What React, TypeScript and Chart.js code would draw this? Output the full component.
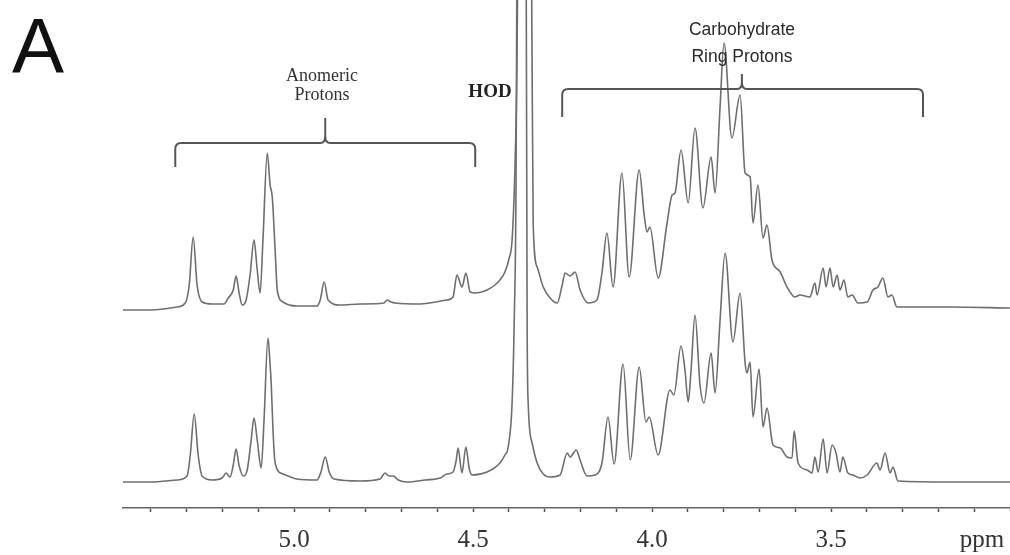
import { useEffect, useRef } from "react";
import { Chart, registerables } from "chart.js";

Chart.register(...registerables);

// Chemical shift (ppm) and intensity of the upper spectrum
const topPpm = [
  5.478, 5.402, 5.327, 5.304, 5.293, 5.282, 5.271, 5.257, 5.229, 5.196, 5.184, 5.17, 5.162, 5.154, 5.145,
  5.134, 5.123, 5.112, 5.103, 5.095, 5.087, 5.075, 5.067, 5.061, 5.053, 5.047, 5.031, 4.992, 4.936, 4.927,
  4.916, 4.905, 4.872, 4.816, 4.749, 4.74, 4.729, 4.718, 4.648, 4.573, 4.556, 4.545, 4.531, 4.52, 4.508,
  4.494, 4.461, 4.439, 4.425, 4.411, 4.399, 4.391, 4.383, 4.377, 4.356, 4.336, 4.332, 4.321, 4.304, 4.285,
  4.265, 4.251, 4.243, 4.229, 4.215, 4.201, 4.179, 4.154, 4.14, 4.126, 4.109, 4.084, 4.064, 4.036, 4.022,
  4.014, 4.006, 3.983, 3.958, 3.944, 3.936, 3.919, 3.899, 3.88, 3.858, 3.835, 3.824, 3.81, 3.799, 3.777,
  3.754, 3.74, 3.726, 3.718, 3.704, 3.69, 3.679, 3.665, 3.642, 3.623, 3.601, 3.587, 3.559, 3.545, 3.539,
  3.522, 3.514, 3.503, 3.494, 3.483, 3.475, 3.464, 3.453, 3.441, 3.425, 3.399, 3.383, 3.369, 3.355, 3.341,
  3.33, 3.316, 3.168, 3.0,
];
const topIntensity = [
  0, 0, 3, 7, 25, 73, 25, 8, 6, 6, 12, 20, 34, 18, 5,
  10, 35, 70, 40, 17, 70, 157, 125, 113, 60, 20, 8, 4, 4, 10,
  28, 10, 5, 6, 7, 10, 8, 7, 6, 10, 13, 35, 23, 37, 18,
  17, 20, 25, 30, 38, 52, 70, 143, 260, 1500, 300, 85, 43, 23, 12,
  7, 25, 37, 34, 38, 20, 7, 10, 37, 77, 23, 137, 33, 140, 95,
  78, 83, 32, 87, 115, 117, 160, 107, 182, 102, 153, 117, 203, 267, 172,
  215, 137, 133, 87, 125, 72, 85, 50, 38, 23, 13, 15, 13, 27, 15,
  42, 23, 42, 23, 35, 20, 30, 13, 15, 7, 8, 20, 23, 32, 13,
  15, 3, 3, 2,
];

// Chemical shift (ppm) and intensity of the lower spectrum
const bottomPpm = [
  5.478, 5.402, 5.327, 5.299, 5.29, 5.279, 5.268, 5.257, 5.229, 5.201, 5.19, 5.179, 5.17, 5.162, 5.154,
  5.142, 5.131, 5.12, 5.112, 5.103, 5.092, 5.084, 5.073, 5.067, 5.064, 5.059, 5.053, 5.031, 4.992, 4.936,
  4.925, 4.913, 4.902, 4.888, 4.816, 4.76, 4.746, 4.735, 4.723, 4.709, 4.684, 4.634, 4.592, 4.573, 4.556,
  4.547, 4.542, 4.531, 4.52, 4.511, 4.503, 4.461, 4.425, 4.411, 4.402, 4.391, 4.385, 4.38, 4.365, 4.35,
  4.349, 4.346, 4.335, 4.321, 4.304, 4.285, 4.257, 4.237, 4.229, 4.212, 4.201, 4.182, 4.159, 4.14, 4.123,
  4.106, 4.081, 4.061, 4.036, 4.017, 4.008, 3.983, 3.95, 3.939, 3.919, 3.908, 3.899, 3.891, 3.88, 3.866,
  3.855, 3.835, 3.824, 3.81, 3.796, 3.774, 3.754, 3.74, 3.735, 3.726, 3.718, 3.701, 3.69, 3.679, 3.662,
  3.642, 3.623, 3.609, 3.603, 3.592, 3.567, 3.553, 3.545, 3.536, 3.522, 3.511, 3.497, 3.486, 3.475, 3.467,
  3.453, 3.439, 3.419, 3.399, 3.372, 3.363, 3.349, 3.335, 3.327, 3.313, 3.168, 3.0,
];
const bottomIntensity = [
  0, 0, 2, 6, 27, 68, 27, 6, 2, 4, 9, 5, 17, 33, 17,
  6, 12, 42, 64, 42, 14, 62, 144, 117, 99, 52, 19, 8, 3, 2,
  10, 25, 10, 3, 1, 3, 9, 6, 6, 2, 0, 2, 4, 8, 10,
  22, 34, 9, 35, 14, 7, 10, 19, 27, 35, 79, 162, 300, 1800, 300,
  162, 79, 39, 19, 8, 5, 7, 29, 25, 32, 22, 6, 7, 19, 65,
  18, 118, 22, 115, 60, 65, 27, 92, 87, 136, 112, 80, 112, 167, 97,
  79, 129, 89, 162, 229, 140, 189, 119, 109, 120, 65, 113, 55, 74, 37,
  34, 25, 24, 51, 19, 12, 9, 25, 10, 43, 9, 37, 29, 10, 25,
  9, 7, 4, 7, 19, 12, 29, 9, 15, 1, 0, 0,
];

const majorTickLabels = [5.0, 4.5, 4.0, 3.5];
const axisUnit = "ppm";
const panelLetter = "A";
const anomericLabel = ["Anomeric", "Protons"];
const hodLabel = "HOD";
const ringLabel = ["Carbohydrate", "Ring Protons"];
// bracket spans in ppm: [start, end, centre]
const anomericSpan = [5.332, 4.494, 4.913];
const ringSpan = [4.251, 3.243, 3.749];

const SERIF = "'Liberation Serif', 'Times New Roman', serif";
const SANS = "'Liberation Sans', Arial, sans-serif";

function drawBracket(ctx: CanvasRenderingContext2D, x1: number, x2: number, xc: number, y: number, drop: number, rise: number) {
  const r = 6;
  ctx.beginPath();
  ctx.moveTo(x1, y + drop);
  ctx.lineTo(x1, y + r);
  ctx.quadraticCurveTo(x1, y, x1 + r, y);
  ctx.lineTo(xc - 5, y);
  ctx.quadraticCurveTo(xc, y, xc, y - 7);
  ctx.lineTo(xc, y - rise);
  ctx.moveTo(xc, y - 7);
  ctx.quadraticCurveTo(xc, y, xc + 5, y);
  ctx.lineTo(x2 - r, y);
  ctx.quadraticCurveTo(x2, y, x2, y + r);
  ctx.lineTo(x2, y + drop);
  ctx.stroke();
}

const annotationPlugin = {
  id: "nmrAnnotations",
  afterDraw(chart: any) {
    const ctx: CanvasRenderingContext2D = chart.ctx;
    const xs = chart.scales.x;
    ctx.save();
    ctx.fillStyle = "#111";
    ctx.font = `78px ${SANS}`;
    ctx.textAlign = "left";
    ctx.textBaseline = "alphabetic";
    ctx.fillText(panelLetter, 12, 73);

    ctx.strokeStyle = "#555";
    ctx.lineWidth = 2;
    drawBracket(ctx, xs.getPixelForValue(anomericSpan[0]), xs.getPixelForValue(anomericSpan[1]), xs.getPixelForValue(anomericSpan[2]), 143, 24, 25);
    drawBracket(ctx, xs.getPixelForValue(ringSpan[0]), xs.getPixelForValue(ringSpan[1]), xs.getPixelForValue(ringSpan[2]), 89, 28, 15);

    ctx.textAlign = "center";
    ctx.textBaseline = "middle";
    ctx.fillStyle = "#333";
    ctx.font = `18px ${SERIF}`;
    ctx.fillText(anomericLabel[0], 322, 76);
    ctx.fillText(anomericLabel[1], 322, 95);
    ctx.fillStyle = "#222";
    ctx.font = `bold 19px ${SERIF}`;
    ctx.fillText(hodLabel, 490, 92);
    ctx.fillStyle = "#2a2a2a";
    ctx.font = `17.5px ${SANS}`;
    ctx.fillText(ringLabel[0], 742, 30);
    ctx.fillText(ringLabel[1], 742, 57);

    ctx.fillStyle = "#333";
    ctx.font = `25px ${SERIF}`;
    ctx.textBaseline = "alphabetic";
    ctx.fillText(axisUnit, 982, 547);
    ctx.restore();
  },
};

export default function App() {
  const canvasRef = useRef<HTMLCanvasElement | null>(null);

  useEffect(() => {
    if (!canvasRef.current) return;
    const lineColor = "#6e6e6e";
    const chart = new Chart(canvasRef.current, {
      type: "line",
      data: {
        datasets: [
          {
            label: "upper",
            data: topPpm.map((p, i) => ({ x: p, y: topIntensity[i] })),
            yAxisID: "yTop",
            borderColor: lineColor,
            borderWidth: 1.6,
            pointRadius: 0,
            cubicInterpolationMode: "monotone",
            fill: false,
          },
          {
            label: "lower",
            data: bottomPpm.map((p, i) => ({ x: p, y: bottomIntensity[i] })),
            yAxisID: "yBottom",
            borderColor: lineColor,
            borderWidth: 1.6,
            pointRadius: 0,
            cubicInterpolationMode: "monotone",
            fill: false,
          },
        ],
      },
      options: {
        responsive: false,
        animation: false,
        devicePixelRatio: 1,
        layout: { padding: { left: 123, right: 0, top: 0, bottom: 0 } },
        plugins: { legend: { display: false }, tooltip: { enabled: false } },
        scales: {
          x: {
            type: "linear",
            reverse: true,
            min: 3.0,
            max: 5.478,
            afterFit: (s: any) => {
              s.height = 47;
              s.paddingLeft = 0;
              s.paddingRight = 0;
            },
            border: { display: true, color: "#666", width: 1.5 },
            grid: { drawOnChartArea: false, drawTicks: true, tickLength: 4, tickColor: "#555", tickWidth: 1.5 },
            ticks: {
              stepSize: 0.1,
              includeBounds: false,
              autoSkip: false,
              maxRotation: 0,
              padding: 13,
              color: "#333",
              font: { family: SERIF, size: 25 },
              callback: (v: any) => {
                const n = Number(v);
                const hit = majorTickLabels.find((m) => Math.abs(m - n) < 1e-6);
                return hit !== undefined ? hit.toFixed(1) : "";
              },
            },
          },
          yTop: { display: false, min: -198, max: 310 },
          yBottom: { display: false, min: -26, max: 482 },
        },
      },
      plugins: [annotationPlugin],
    });
    return () => chart.destroy();
  }, []);

  return (
    <div style={{ position: "fixed", left: 0, top: 0, width: 1010, height: 555, background: "#fff" }}>
      <canvas ref={canvasRef} width={1010} height={555} />
    </div>
  );
}
